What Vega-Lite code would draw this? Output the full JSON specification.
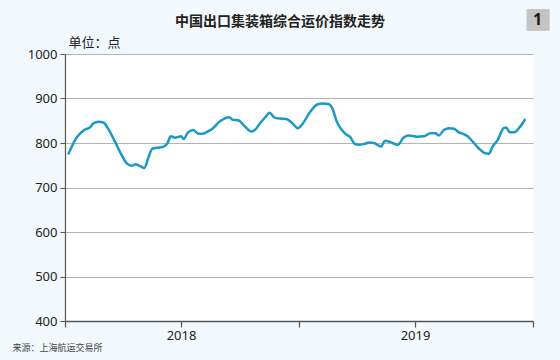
{
  "$schema": "https://vega.github.io/schema/vega-lite/v6.json",
  "width": 468,
  "height": 267,
  "autosize": {"type": "none"},
  "padding": {"left": 65, "top": 54, "right": 27, "bottom": 39},
  "background": "#f3f8fc",
  "title": {
    "text": "中国出口集装箱综合运价指数走势",
    "font": "Noto Sans CJK SC",
    "fontSize": 14,
    "fontWeight": "bold",
    "color": "#222222",
    "anchor": "middle",
    "frame": "group",
    "dx": -19,
    "offset": -20
  },
  "config": {
    "view": {"fill": "#ffffff", "stroke": null},
    "axis": {"labelFont": "Noto Sans", "titleFont": "Noto Sans CJK SC"}
  },
  "layer": [
    {
      "data": {
        "values": [
          {"date": "2018-01-06", "index": 774},
          {"date": "2018-01-19", "index": 812},
          {"date": "2018-02-01", "index": 830},
          {"date": "2018-02-09", "index": 835},
          {"date": "2018-02-14", "index": 844},
          {"date": "2018-02-22", "index": 848},
          {"date": "2018-03-02", "index": 846},
          {"date": "2018-03-09", "index": 833},
          {"date": "2018-03-20", "index": 803},
          {"date": "2018-03-30", "index": 774},
          {"date": "2018-04-07", "index": 755},
          {"date": "2018-04-15", "index": 749},
          {"date": "2018-04-21", "index": 752},
          {"date": "2018-04-28", "index": 748},
          {"date": "2018-05-05", "index": 744},
          {"date": "2018-05-11", "index": 767},
          {"date": "2018-05-17", "index": 787},
          {"date": "2018-05-27", "index": 790},
          {"date": "2018-06-04", "index": 792},
          {"date": "2018-06-10", "index": 800},
          {"date": "2018-06-15", "index": 815},
          {"date": "2018-06-22", "index": 812},
          {"date": "2018-07-01", "index": 815},
          {"date": "2018-07-05", "index": 809},
          {"date": "2018-07-12", "index": 824},
          {"date": "2018-07-20", "index": 829},
          {"date": "2018-07-28", "index": 821},
          {"date": "2018-08-04", "index": 821},
          {"date": "2018-08-12", "index": 826},
          {"date": "2018-08-20", "index": 833},
          {"date": "2018-08-29", "index": 847},
          {"date": "2018-09-07", "index": 855},
          {"date": "2018-09-14", "index": 858},
          {"date": "2018-09-20", "index": 852},
          {"date": "2018-09-28", "index": 851},
          {"date": "2018-10-08", "index": 838},
          {"date": "2018-10-19", "index": 826},
          {"date": "2018-10-24", "index": 829},
          {"date": "2018-11-01", "index": 844},
          {"date": "2018-11-10", "index": 859},
          {"date": "2018-11-16", "index": 868},
          {"date": "2018-11-24", "index": 857},
          {"date": "2018-12-02", "index": 855},
          {"date": "2018-12-12", "index": 854},
          {"date": "2018-12-22", "index": 844},
          {"date": "2018-12-30", "index": 833},
          {"date": "2019-01-07", "index": 844},
          {"date": "2019-01-17", "index": 867},
          {"date": "2019-01-30", "index": 887},
          {"date": "2019-02-07", "index": 889},
          {"date": "2019-02-17", "index": 887},
          {"date": "2019-02-22", "index": 878},
          {"date": "2019-03-01", "index": 848},
          {"date": "2019-03-08", "index": 831},
          {"date": "2019-03-15", "index": 820},
          {"date": "2019-03-22", "index": 813},
          {"date": "2019-03-29", "index": 798},
          {"date": "2019-04-05", "index": 796},
          {"date": "2019-04-13", "index": 798},
          {"date": "2019-04-21", "index": 801},
          {"date": "2019-04-28", "index": 800},
          {"date": "2019-05-09", "index": 792},
          {"date": "2019-05-15", "index": 805},
          {"date": "2019-05-24", "index": 802},
          {"date": "2019-06-04", "index": 796},
          {"date": "2019-06-13", "index": 812},
          {"date": "2019-06-20", "index": 817},
          {"date": "2019-06-27", "index": 816},
          {"date": "2019-07-04", "index": 814},
          {"date": "2019-07-15", "index": 815},
          {"date": "2019-07-25", "index": 822},
          {"date": "2019-08-02", "index": 822},
          {"date": "2019-08-07", "index": 817},
          {"date": "2019-08-15", "index": 829},
          {"date": "2019-08-23", "index": 833},
          {"date": "2019-08-31", "index": 832},
          {"date": "2019-09-07", "index": 824},
          {"date": "2019-09-13", "index": 821},
          {"date": "2019-09-21", "index": 815},
          {"date": "2019-09-29", "index": 803},
          {"date": "2019-10-09", "index": 787},
          {"date": "2019-10-17", "index": 778},
          {"date": "2019-10-24", "index": 776},
          {"date": "2019-10-30", "index": 792},
          {"date": "2019-11-07", "index": 807},
          {"date": "2019-11-16", "index": 833},
          {"date": "2019-11-20", "index": 835},
          {"date": "2019-11-26", "index": 824},
          {"date": "2019-12-03", "index": 824},
          {"date": "2019-12-11", "index": 835},
          {"date": "2019-12-20", "index": 854}
        ],
        "format": {"parse": {"date": "utc:'%Y-%m-%d'"}}
      },
      "mark": {"type": "line", "color": "#1b99c6", "strokeWidth": 2.5, "interpolate": "monotone"},
      "encoding": {
        "x": {
          "field": "date",
          "type": "temporal",
          "scale": {
            "type": "utc",
            "domain": [
              {"year": 2018, "month": 1, "date": 1, "utc": true},
              {"year": 2020, "month": 1, "date": 1, "utc": true}
            ],
            "nice": false
          },
          "axis": {
            "values": [
              {"year": 2018, "month": 1, "date": 1, "utc": true},
              {"year": 2018, "month": 7, "date": 1, "utc": true},
              {"year": 2019, "month": 1, "date": 1, "utc": true},
              {"year": 2019, "month": 7, "date": 1, "utc": true},
              {"year": 2020, "month": 1, "date": 1, "utc": true}
            ],
            "labelExpr": "utcmonth(datum.value) == 6 ? utcFormat(datum.value, '%Y') : ''",
            "grid": false,
            "domainColor": "#555555",
            "domainWidth": 1.5,
            "tickColor": "#555555",
            "tickSize": 6,
            "tickWidth": 1.2,
            "labelFontSize": 13,
            "labelColor": "#222222",
            "labelPadding": 2,
            "labelFlush": false,
            "labelOverlap": false,
            "title": "来源：上海航运交易所",
            "titleFont": "Noto Sans CJK SC",
            "titleFontSize": 9,
            "titleFontWeight": "normal",
            "titleColor": "#444444",
            "titleAnchor": "start",
            "titleAlign": "left",
            "titleBaseline": "middle",
            "titleX": -53,
            "titleY": 26
          }
        },
        "y": {
          "field": "index",
          "type": "quantitative",
          "scale": {"domain": [400, 1000], "nice": false, "zero": false},
          "axis": {
            "values": [400, 500, 600, 700, 800, 900, 1000],
            "format": "d",
            "grid": true,
            "gridColor": "#b4b4b4",
            "gridWidth": 1,
            "domainColor": "#555555",
            "domainWidth": 1.2,
            "tickColor": "#555555",
            "tickSize": 5,
            "labelFontSize": 13,
            "labelColor": "#222222",
            "labelPadding": 3,
            "title": "单位：点",
            "titleFont": "Noto Sans CJK SC",
            "titleFontSize": 13,
            "titleFontWeight": "normal",
            "titleColor": "#222222",
            "titleAngle": 0,
            "titleAlign": "left",
            "titleBaseline": "bottom",
            "titleX": 3,
            "titleY": -5
          }
        }
      }
    },
    {
      "data": {"values": [{"start": "2019-12-22", "end": "2020-01-27", "low": 1052, "high": 1101}]},
      "mark": {"type": "rect", "color": "#c4c4c4", "clip": false},
      "encoding": {
        "x": {"field": "start", "type": "temporal"},
        "x2": {"field": "end"},
        "y": {"field": "low", "type": "quantitative"},
        "y2": {"field": "high"}
      }
    },
    {
      "data": {"values": [{"mid": "2020-01-08", "center": 1076, "label": "1"}]},
      "mark": {"type": "text", "font": "Noto Sans", "fontSize": 16, "fontWeight": "bold", "color": "#1a1a1a", "align": "center", "baseline": "middle", "clip": false},
      "encoding": {
        "x": {"field": "mid", "type": "temporal"},
        "y": {"field": "center", "type": "quantitative"},
        "text": {"field": "label"}
      }
    }
  ]
}
